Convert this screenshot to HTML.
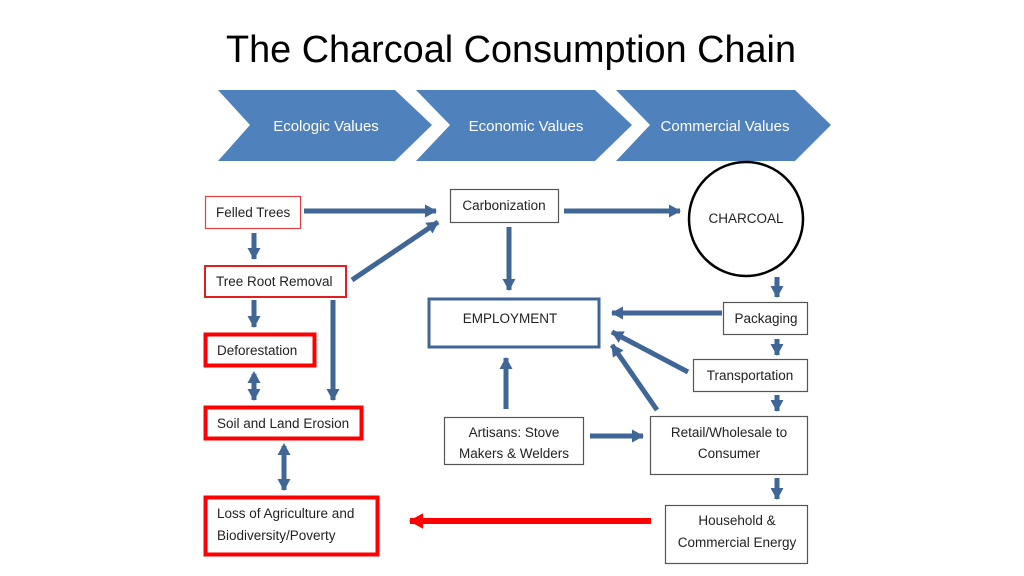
<!DOCTYPE html>
<html><head><meta charset="utf-8"><style>
html,body{margin:0;padding:0;background:#fff;}
svg{display:block;font-family:"Liberation Sans",sans-serif;}
</style></head><body>
<svg width="1024" height="576" viewBox="0 0 1024 576" xmlns="http://www.w3.org/2000/svg">
<defs>
<marker id="ah" markerWidth="4" markerHeight="4" refX="2.2" refY="2" orient="auto" markerUnits="strokeWidth"><path d="M0,0.7 L2.4,2 L0,3.3 Z" fill="#3f6696"/></marker>
<marker id="ahs" markerWidth="4" markerHeight="4" refX="1.8" refY="2" orient="auto-start-reverse" markerUnits="strokeWidth"><path d="M0,0.7 L2.4,2 L0,3.3 Z" fill="#3f6696"/></marker>
<marker id="ar" markerWidth="4" markerHeight="4" refX="2.2" refY="2" orient="auto" markerUnits="strokeWidth"><path d="M0,0.7 L2.4,2 L0,3.3 Z" fill="#f00"/></marker>
</defs>
<text x="511" y="62" font-size="38" text-anchor="middle" fill="#000" textLength="570" lengthAdjust="spacingAndGlyphs">The Charcoal Consumption Chain</text>
<g fill="#4f81bd">
<polygon points="218,90 395,90 432,125 395,161 218,161 250,125"/>
<polygon points="416,90 595,90 632,125 595,161 416,161 450,125"/>
<polygon points="616,90 795,90 831,125 795,161 616,161 650,125"/>
</g>
<g fill="#fff" font-size="15" text-anchor="middle">
<text x="326" y="131">Ecologic Values</text>
<text x="526" y="131">Economic Values</text>
<text x="725" y="131">Commercial Values</text>
</g>
<g fill="none" stroke="#3f6696" stroke-width="5">
<line x1="304" y1="211" x2="436" y2="211" marker-end="url(#ah)"/>
<line x1="564" y1="211" x2="680" y2="211" marker-end="url(#ah)"/>
<line x1="352" y1="280" x2="438" y2="222" marker-end="url(#ah)"/>
<line x1="254" y1="233" x2="254" y2="259" marker-end="url(#ah)"/>
<line x1="254" y1="300" x2="254" y2="327" marker-end="url(#ah)"/>
<line x1="254" y1="374" x2="254" y2="400" marker-start="url(#ahs)" marker-end="url(#ah)"/>
<line x1="333" y1="300" x2="333" y2="400" marker-end="url(#ah)"/>
<line x1="284" y1="446" x2="284" y2="490" marker-start="url(#ahs)" marker-end="url(#ah)"/>
<line x1="509" y1="227" x2="509" y2="290" marker-end="url(#ah)"/>
<line x1="506" y1="409" x2="506" y2="358" marker-end="url(#ah)"/>
<line x1="590" y1="436" x2="643" y2="436" marker-end="url(#ah)"/>
<line x1="722" y1="313" x2="612" y2="313" marker-end="url(#ah)"/>
<line x1="688" y1="372" x2="612" y2="332" marker-end="url(#ah)"/>
<line x1="657" y1="410" x2="612" y2="345" marker-end="url(#ah)"/>
<line x1="777" y1="277" x2="777" y2="297" marker-end="url(#ah)"/>
<line x1="777" y1="339" x2="777" y2="355" marker-end="url(#ah)"/>
<line x1="777" y1="395" x2="777" y2="411" marker-end="url(#ah)"/>
<line x1="777" y1="478" x2="777" y2="499" marker-end="url(#ah)"/>
</g>
<line x1="651" y1="521" x2="410" y2="521" stroke="#f00" stroke-width="6" marker-end="url(#ar)"/>
<g fill="#fff">
<rect x="205.5" y="196.5" width="95" height="32" stroke="#e04040" stroke-width="1.2"/>
<rect x="205" y="266" width="141" height="31" stroke="#e02020" stroke-width="2"/>
<rect x="205.5" y="334.5" width="109" height="31" stroke="#f00" stroke-width="4"/>
<rect x="205.5" y="407.5" width="156" height="31" stroke="#f00" stroke-width="4"/>
<rect x="205.5" y="497.5" width="172" height="57" stroke="#f00" stroke-width="4"/>
<rect x="450.5" y="189.5" width="108" height="33" stroke="#555" stroke-width="1.2"/>
<rect x="429" y="299" width="170" height="48" stroke="#3f6696" stroke-width="3"/>
<rect x="444.5" y="417.5" width="139" height="47" stroke="#555" stroke-width="1.2"/>
<circle cx="746" cy="219" r="57" stroke="#000" stroke-width="2.5"/>
<rect x="723.5" y="302.5" width="84" height="32" stroke="#555" stroke-width="1.2"/>
<rect x="693.5" y="359.5" width="114" height="32" stroke="#555" stroke-width="1.2"/>
<rect x="650.5" y="416.5" width="157" height="58" stroke="#555" stroke-width="1.2"/>
<rect x="665.5" y="505.5" width="142" height="58" stroke="#555" stroke-width="1.2"/>
</g>
<g fill="#222" font-size="13.5">
<text x="216" y="217">Felled Trees</text>
<text x="216" y="286">Tree Root Removal</text>
<text x="217" y="355">Deforestation</text>
<text x="217" y="428">Soil and Land Erosion</text>
<text x="217" y="518">Loss of Agriculture and</text>
<text x="217" y="540">Biodiversity/Poverty</text>
<text x="504" y="210" text-anchor="middle">Carbonization</text>
<text x="510" y="323" text-anchor="middle">EMPLOYMENT</text>
<text x="514" y="437" text-anchor="middle">Artisans: Stove</text>
<text x="514" y="458" text-anchor="middle">Makers &amp; Welders</text>
<text x="746" y="223" text-anchor="middle">CHARCOAL</text>
<text x="766" y="323" text-anchor="middle">Packaging</text>
<text x="750" y="380" text-anchor="middle">Transportation</text>
<text x="729" y="437" text-anchor="middle">Retail/Wholesale to</text>
<text x="729" y="458" text-anchor="middle">Consumer</text>
<text x="737" y="525" text-anchor="middle">Household &amp;</text>
<text x="737" y="547" text-anchor="middle">Commercial Energy</text>
</g>
</svg>
</body></html>
